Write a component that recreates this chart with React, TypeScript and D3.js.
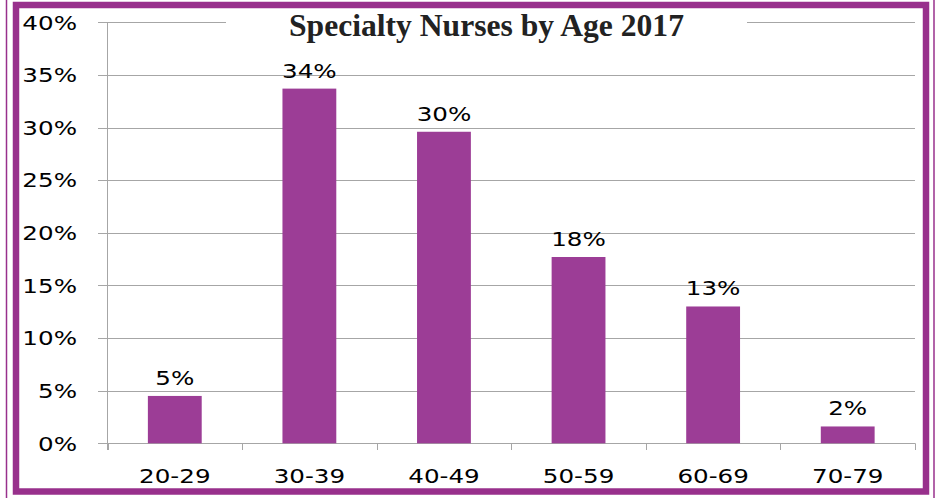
import React from "react";
import * as d3 from "d3";

const categories = ["20-29", "30-39", "40-49", "50-59", "60-69", "70-79"];
const values = [0.045, 0.337, 0.296, 0.177, 0.13, 0.016];
const valueLabels = ["5%", "34%", "30%", "18%", "13%", "2%"];
const yTicks = [0, 0.05, 0.1, 0.15, 0.2, 0.25, 0.3, 0.35, 0.4];
const title = "Specialty Nurses by Age 2017";

const W = 938;
const H = 498;
const BAR = "#9c3d96";
const BORDER = "#98308c";
const GRID = "#a6a6a6";
const FONT = "'DejaVu Sans', Verdana, sans-serif";
const SX = 1.23;

export default function App() {
  const x = d3
    .scaleBand<string>()
    .domain(categories)
    .range([107.5, 915])
    .paddingInner(0.6)
    .paddingOuter(0.3);
  const y = d3.scaleLinear().domain([0, 0.4]).range([443.3, 22.3]);
  const step = x.step();
  const x0 = x.range()[0];
  const fmt = d3.format(".0%");

  const stext = (tx: number, ty: number, s: string, anchor: string, key?: any) => (
    <text
      key={key}
      transform={`translate(${tx},${ty}) scale(${SX},1)`}
      textAnchor={anchor}
      fontFamily={FONT}
      fontSize={20}
      fill="#000"
    >
      {s}
    </text>
  );

  return (
    <svg
      width={W}
      height={H}
      style={{ position: "absolute", left: 0, top: 0, background: "#fff" }}
    >
      <rect x={0} y={0} width={W} height={H} fill="#fff" />
      {/* gridlines */}
      {yTicks.map((t) => (
        <line
          key={"g" + t}
          x1={98}
          x2={915}
          y1={Math.round(y(t)) + 0.5}
          y2={Math.round(y(t)) + 0.5}
          stroke={GRID}
          strokeWidth={1}
        />
      ))}
      {/* y axis */}
      <line x1={107.5} x2={107.5} y1={y(0.4)} y2={450} stroke={GRID} />
      {/* x ticks */}
      {d3.range(categories.length + 1).map((i) => (
        <line
          key={"xt" + i}
          x1={Math.round(x0 + i * step) + 0.5}
          x2={Math.round(x0 + i * step) + 0.5}
          y1={y(0)}
          y2={450}
          stroke={GRID}
        />
      ))}
      {/* bars */}
      {categories.map((c, i) => (
        <rect
          key={"b" + c}
          x={x(c)}
          y={y(values[i])}
          width={x.bandwidth()}
          height={y(0) - y(values[i])}
          fill={BAR}
        />
      ))}
      {/* data labels */}
      {categories.map((c, i) =>
        stext(x(c)! + x.bandwidth() / 2, y(values[i]) - 11, valueLabels[i], "middle", "l" + c)
      )}
      {/* y tick labels */}
      {yTicks.map((t) => stext(77, y(t) + 7.3, fmt(t), "end", "yl" + t))}
      {/* x labels */}
      {categories.map((c) => stext(x(c)! + x.bandwidth() / 2, 482.7, c, "middle", "xl" + c))}
      {/* title box */}
      <rect x={226} y={9} width={521} height={40} fill="#fff" />
      <text
        x={486.5}
        y={36}
        textAnchor="middle"
        fontFamily="'Liberation Serif', 'Times New Roman', serif"
        fontWeight="bold"
        fontSize={31.6}
        fill="#222"
      >
        {title}
      </text>
      {/* borders */}
      <rect x={16} y={5} width={910} height={486.5} fill="none" stroke={BORDER} strokeWidth={6.5} />
      <line x1={6.5} x2={6.5} y1={0} y2={H} stroke={BORDER} strokeWidth={1.5} />
      <line x1={934} x2={934} y1={0} y2={H} stroke={BORDER} strokeWidth={1.5} />
    </svg>
  );
}
